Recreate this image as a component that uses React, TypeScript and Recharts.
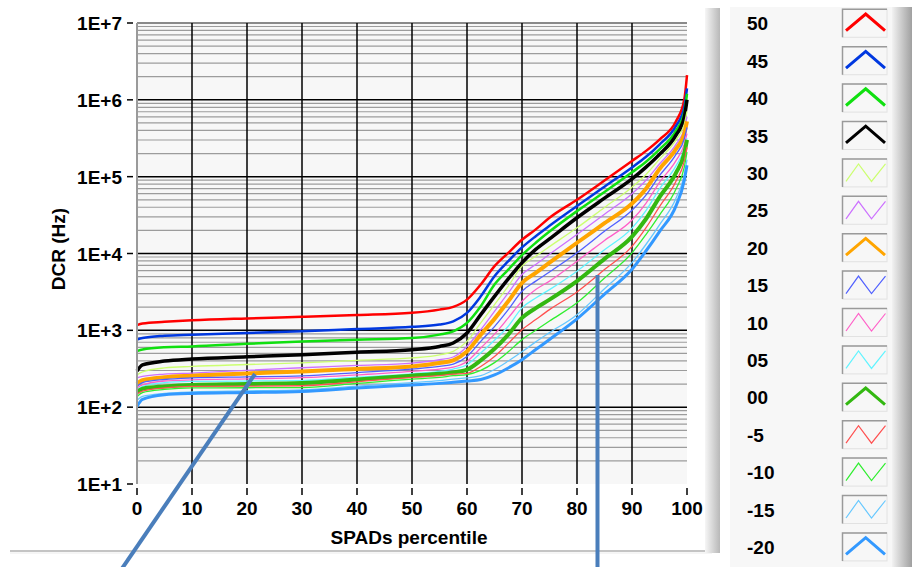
import React from 'react';
import { LineChart, Line, XAxis, YAxis, CartesianGrid, ReferenceLine, Label } from 'recharts';

// SPAD percentile (x)
const percentile = [0, 1, 5, 10, 20, 30, 40, 50, 55, 57.5, 60, 62.5, 65, 67.5, 70, 72.5, 75, 80, 85, 90, 92.5, 95, 98, 99.5, 100];

// DCR (Hz) per temperature
const dcr50 = [1170, 1230, 1290, 1350, 1430, 1500, 1580, 1690, 1860, 2020, 2510, 3950, 6840, 10200, 15100, 20600, 29200, 50100, 89100, 160000, 215000, 304000, 525000, 1000000, 2090000];
const dcr45 = [760, 794, 851, 879, 923, 970, 1040, 1110, 1190, 1310, 1690, 2770, 5060, 7940, 12000, 16800, 22900, 41400, 74100, 132000, 180000, 262000, 457000, 794000, 1410000];
const dcr40 = [537, 562, 603, 617, 668, 718, 755, 794, 879, 970, 1250, 2060, 3950, 6170, 9550, 13800, 19300, 35600, 63100, 114000, 155000, 226000, 398000, 676000, 1200000];
const dcr35 = [295, 355, 398, 423, 452, 482, 519, 560, 617, 684, 925, 1600, 2770, 4680, 7590, 11300, 15500, 29200, 52500, 93300, 132000, 195000, 347000, 589000, 1000000];
const dcr30 = [263, 288, 324, 339, 359, 378, 407, 437, 479, 532, 719, 1250, 2160, 3750, 6840, 9230, 12300, 21600, 39800, 73000, 106000, 169000, 302000, 479000, 708000];
const dcr25 = [240, 251, 269, 278, 302, 326, 349, 375, 414, 450, 617, 1020, 1770, 3070, 5320, 7190, 9770, 17700, 32400, 60000, 89100, 146000, 263000, 417000, 603000];
const dcr20 = [200, 224, 245, 257, 275, 292, 314, 339, 375, 407, 532, 879, 1410, 2390, 4150, 5600, 7590, 13800, 24800, 44700, 69200, 126000, 229000, 363000, 525000];
const dcr15 = [186, 209, 229, 240, 248, 256, 282, 313, 339, 363, 457, 719, 1120, 1860, 3230, 4370, 5750, 10200, 19500, 36600, 57000, 103000, 195000, 309000, 437000];
const dcr10 = [178, 195, 219, 227, 234, 242, 263, 292, 313, 331, 394, 589, 891, 1450, 2390, 3390, 4370, 7940, 14800, 27300, 44700, 84500, 162000, 263000, 363000];
const dcr05 = [166, 186, 209, 216, 219, 222, 245, 272, 292, 313, 357, 507, 741, 1130, 1960, 2630, 3390, 5890, 11200, 21400, 35900, 69500, 138000, 229000, 316000];
const dcr00 = [158, 174, 186, 195, 200, 206, 229, 257, 272, 283, 308, 407, 575, 879, 1450, 1950, 2510, 4370, 8510, 16600, 27900, 54300, 112000, 200000, 302000];
const dcrM5 = [148, 162, 178, 186, 188, 190, 214, 244, 257, 269, 275, 339, 457, 676, 1020, 1380, 1860, 3160, 6170, 12400, 21400, 40700, 87100, 158000, 240000];
const dcrM10 = [138, 155, 170, 178, 179, 180, 204, 232, 244, 257, 266, 302, 380, 525, 757, 1000, 1320, 2280, 4790, 10200, 17500, 31600, 69200, 132000, 209000];
const dcrM15 = [123, 138, 151, 158, 163, 168, 188, 209, 222, 232, 240, 257, 309, 398, 525, 708, 933, 1600, 3470, 7590, 13000, 23600, 52500, 105000, 166000];
const dcrM20 = [102, 126, 145, 151, 155, 160, 178, 195, 204, 211, 219, 229, 263, 324, 415, 562, 759, 1410, 2950, 6240, 10700, 19300, 41700, 89100, 141000];

const seriesLabels = ['50', '45', '40', '35', '30', '25', '20', '15', '10', '05', '00', '-5', '-10', '-15', '-20'];
const seriesValues = [dcr50, dcr45, dcr40, dcr35, dcr30, dcr25, dcr20, dcr15, dcr10, dcr05, dcr00, dcrM5, dcrM10, dcrM15, dcrM20];
const seriesColors = ['#ff0000', '#0038e0', '#10e010', '#000000', '#ccff70', '#cc70ff', '#ffa500', '#5060ff', '#ff60c8', '#60f4ff', '#33b811', '#ff5050', '#30ee30', '#66c8ff', '#3399ff'];
const seriesThick = [true, true, true, true, false, false, true, false, false, false, true, false, false, false, true];
const seriesWidths = [2.5, 2.5, 2.5, 3.5, 1.3, 1.3, 4, 1.3, 1.3, 1.3, 4, 1.3, 1.3, 1.3, 3];

const xTicks = [0, 10, 20, 30, 40, 50, 60, 70, 80, 90, 100];
const xGrid = [10, 20, 30, 40, 50, 60, 70, 80, 90];
const yTicks = [10, 100, 1000, 10000, 100000, 1000000, 10000000];
const yMajorGrid = [100, 1000, 10000, 100000, 1000000];

const minorGrid: number[] = [];
[10, 100, 1000, 10000, 100000, 1000000].forEach((d) => {
  for (let m = 2; m <= 9; m++) minorGrid.push(m * d);
});

const data = percentile.map((p, i) => {
  const row: Record<string, number> = { p };
  seriesLabels.forEach((lab, k) => {
    row['s' + lab] = seriesValues[k][i];
  });
  return row;
});

const FONT = '"Liberation Sans", Arial, sans-serif';
const fmtY = (v: number) => '1E+' + Math.round(Math.log10(v));

const YTick = (props: any) => {
  const { x, y, payload } = props;
  return (
    <g>
      <line x1={x - 10} x2={x - 4} y1={y} y2={y} stroke="#000" strokeWidth={1.5} />
      <text x={x - 15} y={y + 7} textAnchor="end" fontFamily={FONT} fontWeight={700} fontSize={19} fill="#000">
        {fmtY(payload.value)}
      </text>
    </g>
  );
};

const XTick = (props: any) => {
  const { x, y, payload } = props;
  return (
    <g>
      <line x1={x} x2={x} y1={y + 4} y2={y + 11} stroke="#000" strokeWidth={1.5} />
      <text x={x} y={y + 31} textAnchor="middle" fontFamily={FONT} fontWeight={700} fontSize={19} fill="#000">
        {payload.value}
      </text>
    </g>
  );
};

const Frame = () => (
  <svg width={912} height={567} style={{ position: 'absolute', left: 0, top: 0 }}>
    <defs>
      <linearGradient id="shadowA" x1="0" x2="1" y1="0" y2="0">
        <stop offset="0" stopColor="#f6f6f6" />
        <stop offset="1" stopColor="#b8b8b8" />
      </linearGradient>
      <linearGradient id="shadowB" x1="0" x2="1" y1="0" y2="0">
        <stop offset="0" stopColor="#f2f2f2" />
        <stop offset="1" stopColor="#a0a0a0" />
      </linearGradient>
    </defs>
    <line x1={10} x2={712} y1={551} y2={551} stroke="#c4c4c4" strokeWidth={2} />
    <line x1={10} x2={712} y1={553} y2={553} stroke="#ececec" strokeWidth={1} />
    <rect x={705} y={8} width={15} height={545} fill="url(#shadowA)" />
    <rect x={730} y={7} width={162} height={560} fill="#f7f7f7" />
    <rect x={892} y={7} width={20} height={560} fill="url(#shadowB)" />
  </svg>
);

const LegendPanel = () => (
  <svg width={912} height={567} style={{ position: 'absolute', left: 0, top: 0 }}>
    {seriesLabels.map((lab, i) => {
      const cy = 23.3 + i * 37.4;
      const pts = seriesThick[i]
        ? `846,${cy + 7.4} 865.7,${cy - 9.3} 885,${cy + 7.4}`
        : `846,${cy + 8.5} 858.5,${cy - 9} 871.5,${cy + 8.5} 885.5,${cy - 9}`;
      return (
        <g key={lab}>
          <text x={747} y={cy + 7} fontFamily={FONT} fontWeight={700} fontSize={19} fill="#000">
            {lab}
          </text>
          <rect x={842.5} y={cy - 14} width={44.5} height={28} fill="none" stroke="#e2e2e2" strokeWidth={1} />
          <polyline points={`842.5,${cy + 14} 842.5,${cy - 14} 887,${cy - 14}`} fill="none" stroke="#9a9a9a" strokeWidth={1.5} />
          <polyline
            points={pts}
            fill="none"
            stroke={seriesColors[i]}
            strokeWidth={seriesThick[i] ? 3 : 1.2}
            strokeLinejoin="miter"
          />
        </g>
      );
    })}
  </svg>
);

const Annotations = () => (
  <svg width={912} height={567} style={{ position: 'absolute', left: 0, top: 0, pointerEvents: 'none' }}>
    <line x1={255} y1={374} x2={121} y2={570} stroke="#4a7ebb" strokeWidth={4} />
    <line x1={597.5} y1={275} x2={597.5} y2={570} stroke="#4a7ebb" strokeWidth={4} />
  </svg>
);

export default function App() {
  return (
    <div style={{ position: 'absolute', left: 0, top: 0, width: 912, height: 567, background: '#fff', overflow: 'hidden' }}>
      <Frame />
      <LegendPanel />
      <div style={{ position: 'absolute', left: 0, top: 0 }}>
        <LineChart width={912} height={567} data={data} margin={{ top: 23, right: 225, bottom: 23, left: 0 }}>
          <CartesianGrid fill="#f7f7f7" horizontal={false} vertical={false} />
          {minorGrid.map((v) => (
            <ReferenceLine key={'m' + v} y={v} stroke="#9c9c9c" strokeWidth={1.2} />
          ))}
          {yMajorGrid.map((v) => (
            <ReferenceLine key={'M' + v} y={v} stroke="#000" strokeWidth={1.5} />
          ))}
          <ReferenceLine y={10000000} stroke="#8a8a8a" strokeWidth={2} />
          {xGrid.map((v) => (
            <ReferenceLine key={'x' + v} x={v} stroke="#000" strokeWidth={1.5} />
          ))}
          <XAxis
            dataKey="p"
            type="number"
            domain={[0, 100]}
            ticks={xTicks}
            interval={0}
            height={60}
            axisLine={false}
            tickLine={false}
            tickSize={0}
            tickMargin={0}
            tick={XTick}
          >
            <Label value="SPADs percentile" position="insideBottom" offset={0} dx={-3} fontFamily={FONT} fontWeight={700} fontSize={19} fill="#000" />
          </XAxis>
          <YAxis
            type="number"
            scale="log"
            domain={[10, 10000000]}
            allowDataOverflow
            ticks={yTicks}
            interval={0}
            width={137}
            axisLine={{ stroke: '#9a9a9a', strokeWidth: 2 }}
            tickLine={false}
            tickSize={0}
            tickMargin={0}
            tick={YTick}
          >
            <Label value="DCR (Hz)" position="center" angle={-90} dx={-10.5} dy={-4.5} fontFamily={FONT} fontWeight={700} fontSize={19} fill="#000" />
          </YAxis>
          {seriesLabels.map((lab, i) => (
            <Line
              key={lab}
              dataKey={'s' + lab}
              name={lab}
              type="monotone"
              stroke={seriesColors[i]}
              strokeWidth={seriesWidths[i]}
              dot={false}
              activeDot={false}
              isAnimationActive={false}
            />
          ))}
        </LineChart>
      </div>
      <Annotations />
    </div>
  );
}
